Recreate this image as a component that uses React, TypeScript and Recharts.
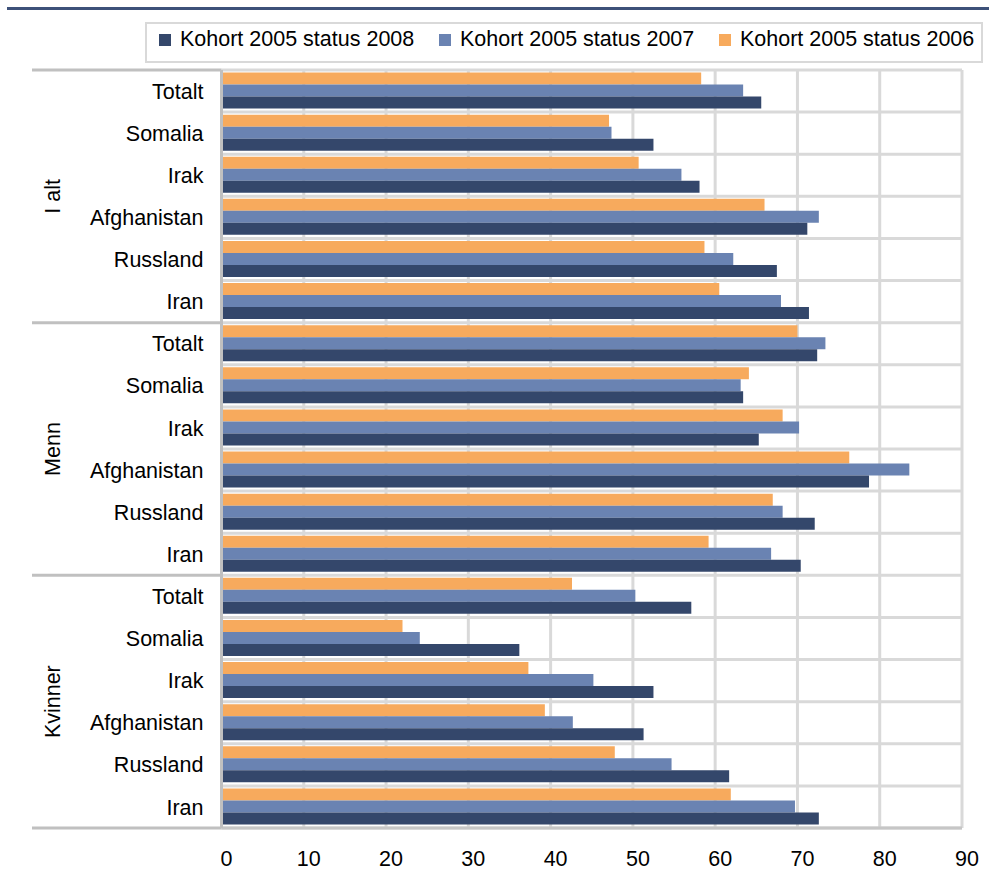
import React from 'react';
import { BarChart, Bar, XAxis, YAxis, CartesianGrid } from 'recharts';

const groups = ['I alt', 'Menn', 'Kvinner'];
const countries = ['Totalt', 'Somalia', 'Irak', 'Afghanistan', 'Russland', 'Iran'];

const status2008 = [65.6, 52.5, 58.1, 71.2, 67.5, 71.4, 72.4, 63.4, 65.3, 78.7, 72.1, 70.4, 57.1, 36.2, 52.5, 51.3, 61.7, 72.6];
const status2007 = [63.4, 47.4, 55.9, 72.6, 62.2, 68.0, 73.4, 63.1, 70.2, 83.6, 68.2, 66.8, 50.3, 24.1, 45.2, 42.7, 54.7, 69.7];
const status2006 = [58.3, 47.1, 50.7, 66.0, 58.7, 60.5, 70.0, 64.1, 68.2, 76.3, 67.0, 59.2, 42.6, 22.0, 37.3, 39.3, 47.8, 61.9];

const xTicks = [0, 10, 20, 30, 40, 50, 60, 70, 80, 90];

const legendNames = ['Kohort 2005 status 2008', 'Kohort 2005 status 2007', 'Kohort 2005 status 2006'];
const legendColors = ['#34476b', '#6a83b2', '#f7aa5d'];

const data = groups.flatMap((g, gi) =>
  countries.map((c, ci) => {
    const i = gi * countries.length + ci;
    return { key: `${g}|${c}`, group: g, name: c, s2006: status2006[i], s2007: status2007[i], s2008: status2008[i] };
  })
);

const FONT = '"Liberation Sans", Arial, Helvetica, sans-serif';
const FS = 21.5;

const CategoryTick = (props: any) => {
  const { x, y, payload, index, height, visibleTicksCount } = props;
  const half =
    payload && typeof payload.offset === 'number' && payload.offset > 0
      ? payload.offset
      : height / visibleTicksCount / 2;
  const row = data[index];
  if (!row) return null;
  const axisX = x + 18;
  const n = countries.length;
  const pos = index % n;
  return (
    <g>
      <text x={x} y={y} dy="0.355em" textAnchor="end" fill="#000" fontSize={FS} fontFamily={FONT}>
        {row.name}
      </text>
      {pos === 0 && <line x1={32} x2={axisX} y1={y - half} y2={y - half} stroke="#c0c0c0" strokeWidth={3} />}
      {index === data.length - 1 && (
        <line x1={32} x2={axisX} y1={y + half} y2={y + half} stroke="#c0c0c0" strokeWidth={3} />
      )}
      {pos === n / 2 - 1 && (
        <text
          transform={`translate(52, ${y + half}) rotate(-90)`}
          textAnchor="middle"
          dy="0.355em"
          fill="#000"
          fontSize={FS}
          fontFamily={FONT}
        >
          {row.group}
        </text>
      )}
    </g>
  );
};

export default function App() {
  return (
    <div style={{ position: 'absolute', left: 0, top: 0, width: 989, height: 875, background: '#fff', fontFamily: FONT }}>
      <div style={{ position: 'absolute', left: 7, top: 7, width: 982, height: 3, background: '#3d5179' }} />
      <div
        style={{
          position: 'absolute',
          left: 145,
          top: 22,
          width: 838,
          height: 41,
          boxSizing: 'border-box',
          border: '2px solid #d9d9d9',
          display: 'flex',
          alignItems: 'center',
          paddingLeft: 12,
          paddingBottom: 5,
          zIndex: 2,
          background: '#fff',
        }}
      >
        {legendNames.map((nm, i) => (
          <div key={nm} style={{ width: 280, display: 'flex', alignItems: 'center', flex: 'none' }}>
            <span style={{ display: 'inline-block', width: 12, height: 12, background: legendColors[i], marginRight: 9 }} />
            <span style={{ fontSize: FS, color: '#000', whiteSpace: 'nowrap', lineHeight: 1 }}>{nm}</span>
          </div>
        ))}
      </div>
      <BarChart
        width={989}
        height={875}
        data={data}
        layout="vertical"
        margin={{ top: 70, right: 27, bottom: 0, left: 0 }}
        barCategoryGap="6%"
        barGap={0}
      >
        <CartesianGrid
          stroke="#d9d9d9"
          strokeWidth={3}
          horizontalCoordinatesGenerator={({ offset }: any) =>
            data.map((_, i) => offset.top + (i * offset.height) / data.length).concat([offset.top + offset.height])
          }
        />
        <XAxis
          type="number"
          domain={[0, 90]}
          ticks={xTicks}
          interval={0}
          axisLine={{ stroke: '#c6c6c6', strokeWidth: 3 }}
          tickLine={false}
          tickMargin={17}
          height={47}
          tick={{ fill: '#000', fontSize: FS, fontFamily: FONT, dx: 5 }}
        />
        <YAxis
          type="category"
          dataKey="key"
          width={221.5}
          interval={0}
          axisLine={{ stroke: '#c0c0c0', strokeWidth: 3 }}
          tickLine={false}
          tickMargin={12}
          tick={<CategoryTick />}
        />
        <Bar dataKey="s2006" name={legendNames[2]} fill={legendColors[2]} isAnimationActive={false} />
        <Bar dataKey="s2007" name={legendNames[1]} fill={legendColors[1]} isAnimationActive={false} />
        <Bar dataKey="s2008" name={legendNames[0]} fill={legendColors[0]} isAnimationActive={false} />
      </BarChart>
    </div>
  );
}
